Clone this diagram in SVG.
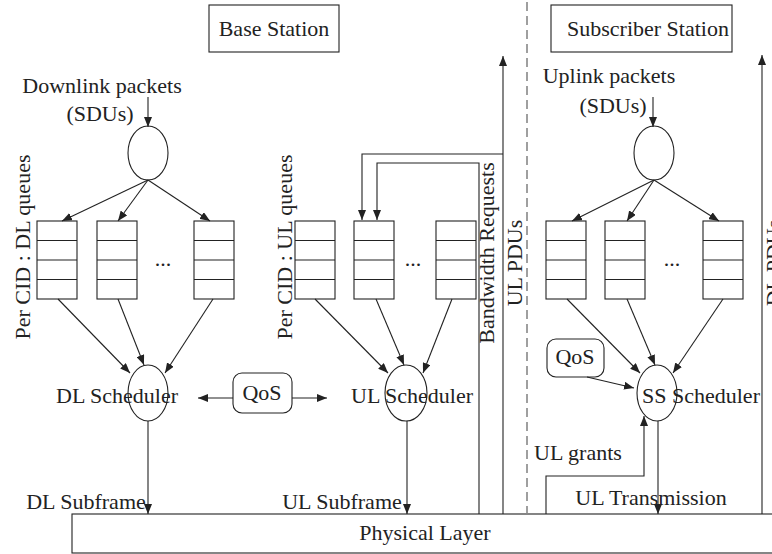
<svg xmlns="http://www.w3.org/2000/svg" width="772" height="554" viewBox="0 0 772 554">
<style>
text{font-family:"Liberation Serif","Times New Roman",serif;font-size:22px;fill:#222}
.m{text-anchor:middle}
.box{fill:#fff;stroke:#222;stroke-width:1.1}
.ln{fill:none;stroke:#222;stroke-width:1.1}
.ar{fill:none;stroke:#222;stroke-width:1.1;marker-end:url(#ah)}
.dash{fill:none;stroke:#888;stroke-width:1.6;stroke-dasharray:9,5}
</style>
<defs>
<marker id="ah" markerUnits="userSpaceOnUse" markerWidth="10" markerHeight="8" refX="10" refY="4" orient="auto">
<path d="M0,0 L10,4 L0,8 z" fill="#222"/>
</marker>
<g id="queue">
<rect class="box" x="0" y="0" width="40" height="78"/>
<path class="ln" d="M0,19.5 H40 M0,39 H40 M0,58.5 H40"/>
</g>
</defs>
<rect width="772" height="554" fill="#fff"/>

<g id="base-station"><rect class="box" x="209" y="5" width="130" height="47"/><text class="m" x="274" y="36">Base Station</text></g>
<g id="subscriber-station"><rect class="box" x="551" y="5" width="181" height="47"/><text class="m" x="648" y="36">Subscriber Station</text></g>

<g id="dl-input"><text class="m" x="102" y="93">Downlink packets</text><text class="m" x="100" y="121">(SDUs)</text></g>
<g id="ul-input"><text class="m" x="609" y="83">Uplink packets</text><text class="m" x="613" y="113">(SDUs)</text></g>

<g id="dl-classifier"><ellipse class="box" cx="148" cy="153" rx="20" ry="27"/></g>
<g id="ss-classifier"><ellipse class="box" cx="654" cy="153" rx="20" ry="27"/></g>

<g id="dl-queues">
<use href="#queue" x="37" y="221"/><use href="#queue" x="97" y="221"/><use href="#queue" x="194" y="221"/>
<text class="m" x="163" y="266">...</text>
</g>
<g id="ul-queues">
<use href="#queue" x="295" y="221"/><use href="#queue" x="354" y="221"/><use href="#queue" x="436" y="221"/>
<text class="m" x="413" y="266">...</text>
</g>
<g id="ss-queues">
<use href="#queue" x="546" y="221"/><use href="#queue" x="605" y="221"/><use href="#queue" x="703" y="221"/>
<text class="m" x="672" y="266">...</text>
</g>

<g id="dl-scheduler"><ellipse class="box" cx="148" cy="393" rx="20" ry="28"/><text class="m" x="117" y="403">DL Scheduler</text></g>
<g id="ul-scheduler"><ellipse class="box" cx="406" cy="393" rx="21" ry="28"/><text class="m" x="412" y="403">UL Scheduler</text></g>
<g id="ss-scheduler"><ellipse class="box" cx="657" cy="393" rx="20" ry="28"/><text class="m" x="701" y="403">SS Scheduler</text></g>

<g id="qos-bs"><rect class="box" x="233" y="373" width="59" height="40" rx="9"/><text class="m" x="262" y="400">QoS</text></g>
<g id="qos-ss"><rect class="box" x="547" y="339" width="57" height="38" rx="9"/><text class="m" x="575" y="364">QoS</text></g>

<g id="physical-layer"><rect class="box" x="72" y="514" width="710" height="39"/><text class="m" x="425" y="540">Physical Layer</text></g>

<g id="connectors">
<path class="ar" d="M148,97 V127"/>
<path class="ar" d="M653,97 V127"/>
<path class="ar" d="M148,180 L62,221"/>
<path class="ar" d="M148,180 L118,221"/>
<path class="ar" d="M148,180 L210,221"/>
<path class="ar" d="M654,180 L572,221"/>
<path class="ar" d="M654,180 L627,221"/>
<path class="ar" d="M654,180 L719,221"/>
<path class="ar" d="M58,299 L130,373"/>
<path class="ar" d="M118,299 L144,365"/>
<path class="ar" d="M213,299 L165,373"/>
<path class="ar" d="M315,299 L388,373"/>
<path class="ar" d="M376,299 L404,365"/>
<path class="ar" d="M452,299 L423,373"/>
<path class="ar" d="M567,299 L640,373"/>
<path class="ar" d="M627,299 L655,365"/>
<path class="ar" d="M723,299 L673,373"/>
<path class="ar" d="M233,398 H198"/>
<path class="ar" d="M292,398 H327"/>
<path class="ar" d="M587,377 L634,388"/>
<path class="ar" d="M148,421 V514"/>
<path class="ar" d="M407,421 V514"/>
<path class="ar" d="M658,421 V514"/>
<path class="ar" d="M546,514 V476 H644 V416"/>
<path class="ar" d="M479,514 V163 H377 V220"/>
<path class="ar" d="M503,514 V56"/>
<path class="ar" d="M503,154 H362 V220"/>
<path class="ar" d="M762,514 V55"/>
<path class="dash" d="M527,2 V514"/>
</g>

<g id="labels">
<text class="m" transform="translate(30,247) rotate(-90)">Per CID : DL queues</text>
<text class="m" transform="translate(292,247) rotate(-90)">Per CID : UL queues</text>
<text class="m" transform="translate(494,253) rotate(-90)">Bandwidth Requests</text>
<text class="m" transform="translate(522,263) rotate(-90)">UL PDUs</text>
<text class="m" transform="translate(781,263) rotate(-90)">DL PDUs</text>
<text class="m" x="86" y="509">DL Subframe</text>
<text class="m" x="342" y="509">UL Subframe</text>
<text class="m" x="578" y="460">UL grants</text>
<text class="m" x="651" y="505">UL Transmission</text>
</g>
</svg>
